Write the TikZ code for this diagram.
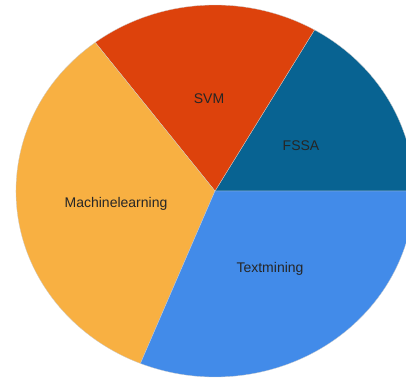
\documentclass[tikz,border=0pt]{standalone}
\usepackage{fontspec}
\setmainfont{Liberation Sans}
\usetikzlibrary{positioning}

\definecolor{fssablue}{RGB}{8,99,146}
\definecolor{svmred}{RGB}{221,66,12}
\definecolor{mlorange}{RGB}{248,176,66}
\definecolor{tmblue}{RGB}{66,139,233}

\begin{document}
\begin{tikzpicture}[x=1pt, y=1pt,
		slice/.style={draw=white!80!black, line width=0.3pt},
		lbl/.style={font=\fontsize{14}{16}\selectfont, text=black!85}]
			\useasboundingbox (-215,-188) rectangle (191,191);
			\clip (-215,-188) rectangle (191,191);
			\coordinate (o) at (0,0);
			\filldraw[slice, fill=fssablue] (o) -- (0:199pt and 186pt) arc[start angle=0, end angle=60, x radius=199pt, y radius=186pt] -- cycle;
			\filldraw[slice, fill=svmred] (o) -- (60:199pt and 186pt) arc[start angle=60, end angle=127, x radius=199pt, y radius=186pt] -- cycle;
			\filldraw[slice, fill=mlorange] (o) -- (127:199pt and 186pt) arc[start angle=127, end angle=248, x radius=199pt, y radius=186pt] -- cycle;
			\filldraw[slice, fill=tmblue] (o) -- (248:199pt and 186pt) arc[start angle=248, end angle=360, x radius=199pt, y radius=186pt] -- cycle;
			\node[lbl] (fssa) at (86,45) {FSSA};
			\node[lbl] (svm) at (-6,92) {SVM};
			\node[lbl] (ml) at (-99,-13) {Machinelearning};
			\node[lbl] (tm) at (55,-78) {Textmining};
		\end{tikzpicture}
\end{document}
